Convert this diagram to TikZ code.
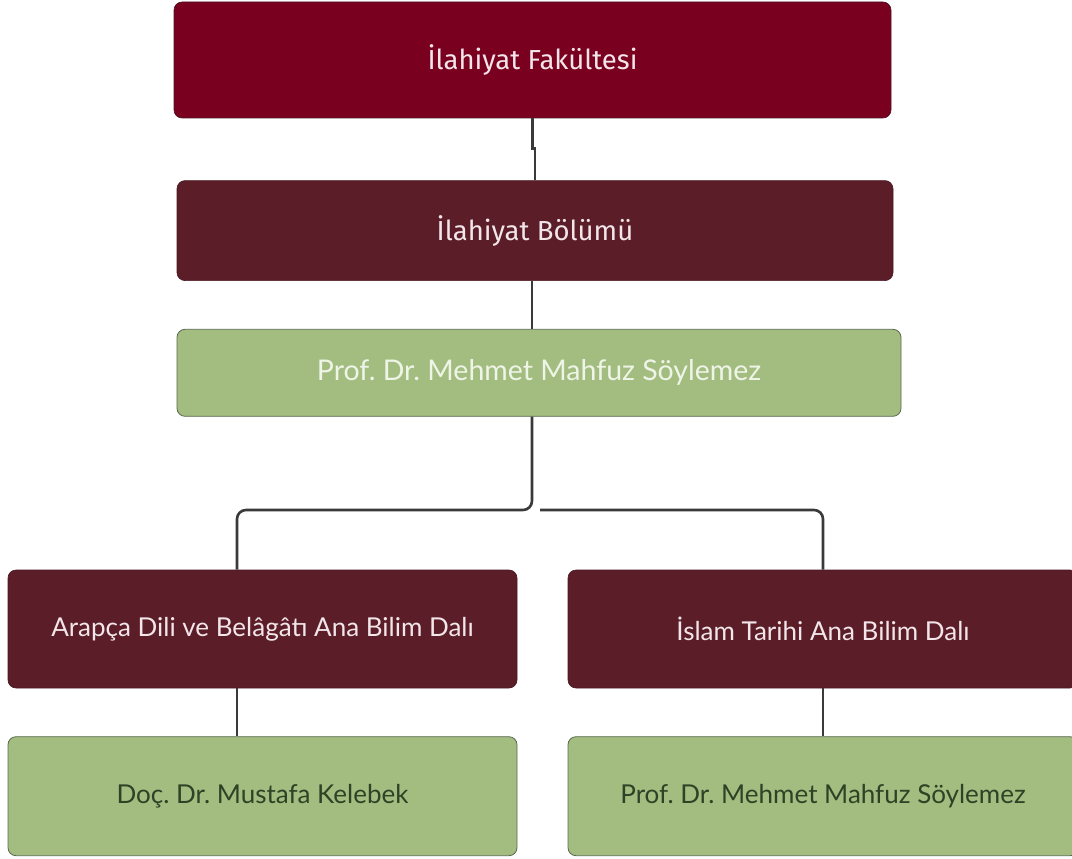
\documentclass[tikz,border=0pt]{standalone}
\usepackage{fontspec}
\setmainfont{Lato}
\newfontfamily\ustfont{Fira Sans}
\usetikzlibrary{positioning}
\frenchspacing

\definecolor{bordo}{HTML}{7A0020}
\definecolor{koyubordo}{HTML}{5B1E28}
\definecolor{yesil}{HTML}{A3BD80}
\definecolor{acikyazi}{HTML}{F3E6EA}
\definecolor{yesilyazi}{HTML}{EEF4E6}
\definecolor{koyuyesil}{HTML}{2E4226}
\definecolor{cizgi}{HTML}{3A3A3A}

\tikzset{
  kutu/.style={rectangle, rounded corners=8pt, align=center, inner sep=0pt},
  koyu/.style={kutu, fill=koyubordo, draw=koyubordo!80!black, line width=0.6pt,
               text=acikyazi, font=\fontsize{26}{30}\selectfont},
  acik/.style={kutu, fill=yesil, draw=koyuyesil!80, line width=0.8pt,
               text=koyuyesil, font=\fontsize{26}{30}\selectfont},
  bag/.style={draw=cizgi, line width=2.6pt, rounded corners=9pt}
}

\begin{document}
\begin{tikzpicture}[x=1pt, y=-1pt]

      \useasboundingbox (0,0) rectangle (1072,859);

      % Define nodes
	  \node[koyu, fill=bordo, minimum width=717pt, minimum height=116pt,
	        font=\ustfont\fontsize{27.5}{30}\selectfont]    (fak) at (532.5,60) {İlahiyat Fakültesi};
	  \node[koyu, below=62pt of fak, xshift=2.5pt, minimum width=716pt, minimum height=100pt,
	        font=\ustfont\fontsize{27.5}{30}\selectfont]    (bolum) {İlahiyat Bölümü};
	  \node[acik, below=48pt of bolum, xshift=4pt, minimum width=724pt, minimum height=87pt,
	        text=yesilyazi, font=\fontsize{28.5}{30}\selectfont] (baskan) {Prof. Dr. Mehmet Mahfuz Söylemez};
	  \node[koyu, minimum width=509pt, minimum height=118pt]   (arapca) at (262.5,629) {Arapça Dili ve Belâgâtı Ana Bilim Dalı};
	  \node[koyu, minimum width=510pt, minimum height=118pt]   (islam) at (823,629) {İslam Tarihi Ana Bilim Dalı};
	  \node[acik, below=48pt of arapca, minimum width=509pt, minimum height=119pt] (arapca-bas) {Doç. Dr. Mustafa Kelebek};
	  \node[acik, below=48pt of islam, minimum width=510pt, minimum height=119pt]  (islam-bas) {Prof. Dr. Mehmet Mahfuz Söylemez};

	  % Branch points
	  \coordinate (dal) at (532,510);
	  \coordinate (dal-sag) at (540,510);
	  \coordinate (sol) at (237,510);
	  \coordinate (sag) at (823,510);

	  % Connect the nodes
	  \draw[bag, rounded corners=0pt] (fak.south) -- ++(0,30) -| (bolum.north);
	  \draw[bag] (bolum.south -| dal) -- (baskan.north -| dal);
	  \draw[bag] (baskan.south -| dal) -- (dal) -- (sol) -- (sol |- arapca.north);
	  \draw[bag] (dal-sag) -- (sag) -- (sag |- islam.north);
	  \draw[bag] (arapca.south -| sol) -- (arapca-bas.north -| sol);
	  \draw[bag] (islam.south -| sag) -- (islam-bas.north -| sag);

	\end{tikzpicture}
\end{document}
